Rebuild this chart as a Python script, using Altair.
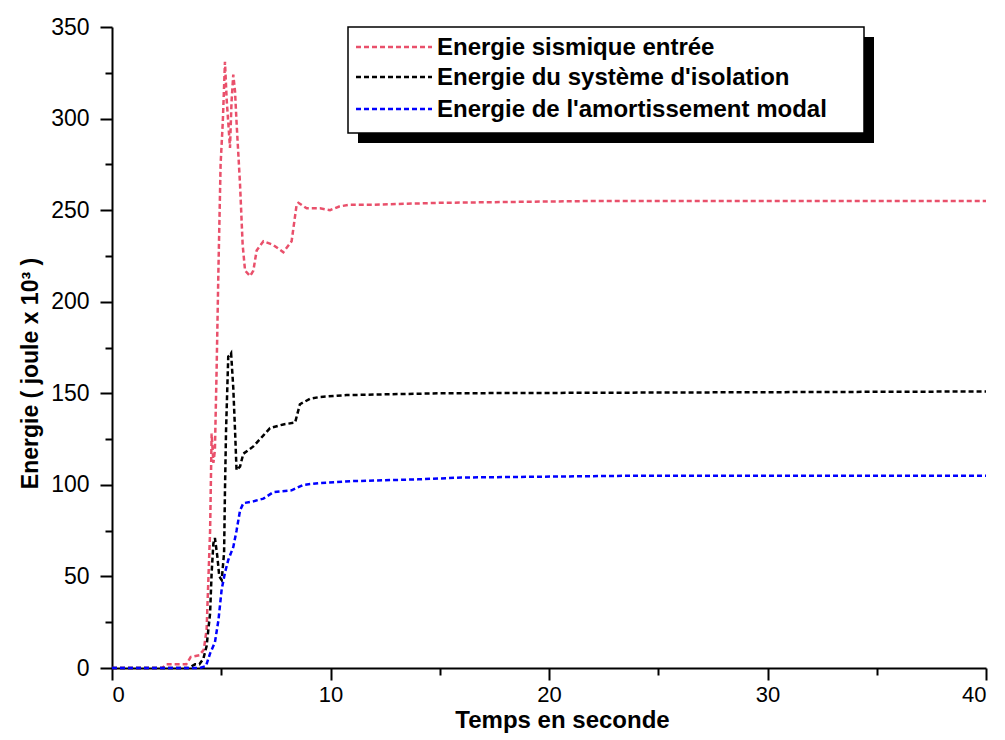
import altair as alt
import pandas as pd

# --- data ---
series_names = ["Energie sismique entrée", "Energie du système d'isolation", "Energie de l'amortissement modal"]
series_colors = ["#e9506b", "#000000", "#0000ff"]

t_input = [0, 2.3, 2.5, 3.4, 3.6, 4.0, 4.2, 4.33, 4.49, 4.56, 4.64, 4.71, 4.79, 4.87, 4.97, 5.07, 5.17,
           5.25, 5.32, 5.4, 5.47, 5.55, 5.63, 5.7, 5.86, 5.98, 6.09, 6.32, 6.47, 6.62, 6.93, 7.38, 7.84,
           8.22, 8.45, 8.53, 8.91, 9.52, 9.98, 10.4, 10.9, 12, 15, 22, 40]
e_input = [0, 0, 2, 2, 6, 7, 10, 21, 75, 128, 112, 119, 164, 217, 275, 298, 331,
           310, 298, 284, 309, 324, 315, 298, 264, 231, 217, 214, 217, 228, 233, 231, 227,
           233, 253, 254, 251, 251, 250, 252, 253, 253, 254, 255, 255]

t_isol = [0, 3.5, 3.8, 4.0, 4.18, 4.33, 4.49, 4.56, 4.64, 4.71, 4.82, 4.91, 5.02, 5.13, 5.17, 5.22,
          5.32, 5.45, 5.55, 5.63, 5.7, 5.86, 6.01, 6.47, 6.93, 7.23, 7.84, 8.38, 8.6, 9.06, 9.52,
          10.74, 15, 40]
e_isol = [0, 0, 2, 2, 5, 12, 30, 52, 68, 71, 61, 50, 48, 63, 97, 130,
          170, 172, 153, 130, 108, 110, 117, 121, 127, 131, 133, 134, 144, 147, 148,
          149, 150, 151]

t_modal = [0, 4.0, 4.3, 4.49, 4.71, 4.87, 5.02, 5.17, 5.32, 5.55, 5.7, 5.86, 6.01, 6.47, 6.93, 7.38,
           8.22, 8.75, 9.52, 10.9, 14, 16, 24, 40]
e_modal = [0, 0, 1, 8, 14, 26, 43, 52, 59, 66, 75, 86, 90, 91, 92.5, 96,
           97, 100, 101, 102, 103, 104, 105, 105]

x_ticks = [0, 5, 10, 15, 20, 25, 30, 35, 40]
y_ticks = [0, 25, 50, 75, 100, 125, 150, 175, 200, 225, 250, 275, 300, 325, 350]

frames = []
for name, ts, es in zip(series_names, [t_input, t_isol, t_modal], [e_input, e_isol, e_modal]):
    frames.append(pd.DataFrame({"t": ts, "E": es, "serie": name}))
df = pd.concat(frames, ignore_index=True)

x_tick_size = {"condition": {"test": "datum.value % 10 === 0", "value": 12}, "value": 7}
y_tick_size = {"condition": {"test": "datum.value % 50 === 0", "value": 12}, "value": 7}

lines = alt.Chart(df).mark_line(strokeWidth=2.5, strokeDash=[5, 3]).encode(
    x=alt.X("t:Q",
            scale=alt.Scale(domain=[0, 40], nice=False, zero=False),
            axis=alt.Axis(values=x_ticks,
                          labelExpr="datum.value % 10 == 0 ? datum.label : ''",
                          title="Temps en seconde",
                          tickSize=x_tick_size,
                          labelFont="Liberation Sans", labelFontSize=22,
                          titleFont="Liberation Sans", titleFontSize=24, titleFontWeight="bold",
                          titleX=450, labelPadding=4, titlePadding=3)),
    y=alt.Y("E:Q",
            scale=alt.Scale(domain=[0, 350], nice=False),
            axis=alt.Axis(values=y_ticks,
                          labelExpr="datum.value % 50 == 0 ? datum.label : ''",
                          title="Energie ( joule x 10³ )",
                          tickSize=y_tick_size,
                          labelFont="Liberation Sans", labelFontSize=23,
                          titleFont="Liberation Sans", titleFontSize=23, titleFontWeight="bold",
                          titleY=346, labelPadding=11, titlePadding=8)),
    color=alt.Color("serie:N",
                    scale=alt.Scale(domain=series_names, range=series_colors),
                    sort=series_names, legend=None),
)

one = pd.DataFrame({"a": [0]})

# legend box (decoration) with drop shadow
shadow = alt.Chart(one).mark_rect(color="black").encode(
    x=alt.value(246), x2=alt.value(762), y=alt.value(10), y2=alt.value(116)
)
box = alt.Chart(one).mark_rect(fill="white", stroke="black", strokeWidth=1.5).encode(
    x=alt.value(236), x2=alt.value(752), y=alt.value(0), y2=alt.value(106)
)

legend_layers = []
row_y = [20, 50, 82]
for name, col, ry in zip(series_names, series_colors, row_y):
    legend_layers.append(
        alt.Chart(one).mark_rule(color=col, strokeWidth=2.5, strokeDash=[5, 3]).encode(
            x=alt.value(244), x2=alt.value(320), y=alt.value(ry)
        )
    )
    legend_layers.append(
        alt.Chart(one).mark_text(align="left", baseline="middle", font="Liberation Sans",
                                 fontSize=24, fontWeight="bold", color="black").encode(
            x=alt.value(325), y=alt.value(ry + 1), text=alt.value(name)
        )
    )

chart = alt.layer(lines, shadow, box, *legend_layers).properties(
    width=874, height=641,
    autosize=alt.AutoSizeParams(type="none"),
    padding={"left": 112, "top": 27, "right": 19, "bottom": 72},
    background="white",
).configure_view(stroke=None).configure_axis(
    grid=False, domainColor="black", domainWidth=2, tickColor="black", tickWidth=2,
    labelColor="black", titleColor="black"
)

chart.save("out.html", embed_options={"renderer": "svg", "actions": False})
